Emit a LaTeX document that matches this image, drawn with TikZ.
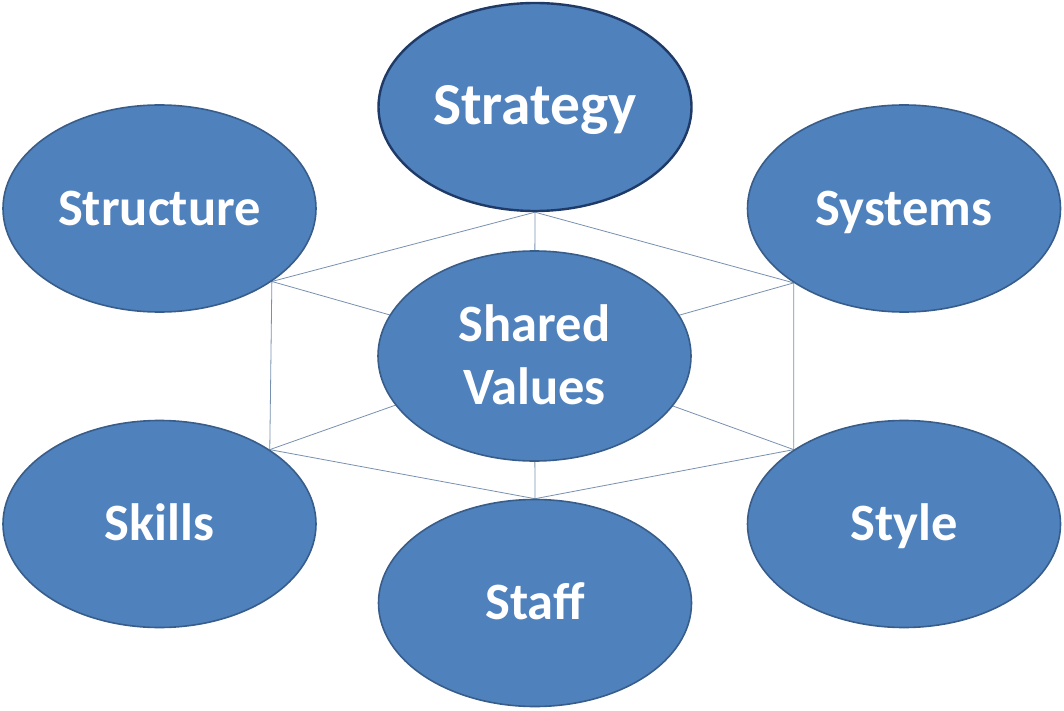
\documentclass[tikz,border=0pt]{standalone}
\usepackage{fontspec}
\setmainfont{Carlito}
\usetikzlibrary{shapes.geometric,backgrounds}
\definecolor{sfill}{HTML}{4F81BD}
\definecolor{sedge}{HTML}{385D8A}
\definecolor{sdark}{HTML}{1F3A66}
\definecolor{sline}{HTML}{7890B0}
\begin{document}
\begin{tikzpicture}[x=1pt,y=-1pt,
  sbubble/.style={ellipse, fill=sfill, draw=sedge, line width=1.6pt, inner sep=0pt,
    minimum width=313pt, minimum height=207pt, text=white,
    font=\fontsize{52.5}{63}\selectfont\bfseries, align=center,
    text height=33.8pt, text depth=0pt},
  slink/.style={draw=sline, line width=0.8pt}]
\useasboundingbox (0,0) rectangle (1064,711);
\node[sbubble, draw=sdark, line width=2.4pt, minimum height=208pt,
  font=\fontsize{59.5}{63}\selectfont\bfseries, text height=36pt] (strategy) at (535,107) {Strategy};
\node[sbubble] (structure) at (159.5,208.5) {Structure};
\node[sbubble] (systems) at (904,208.5) {Systems};
\node[sbubble, minimum height=210pt, text height=96.8pt] (shared) at (534.5,356) {Shared\\Values};
\node[sbubble] (skills) at (159.5,524) {Skills};
\node[sbubble] (style) at (904,524) {Style};
\node[sbubble] (staff) at (535,603) {Staff};
\begin{pgfonlayer}{background}
\coordinate (A) at (structure.-33.5);
\coordinate (B) at (strategy.south);
\coordinate (C) at (systems.-146);
\coordinate (D) at (style.146);
\coordinate (E) at (staff.north);
\coordinate (F) at (skills.34);
\draw[slink] (A) -- (B) -- (C) -- (D) -- (E) -- (F) -- cycle;
\foreach \p in {A,B,C,D,E,F} \draw[slink] (\p) -- (shared.center);
\end{pgfonlayer}
\end{tikzpicture}
\end{document}
